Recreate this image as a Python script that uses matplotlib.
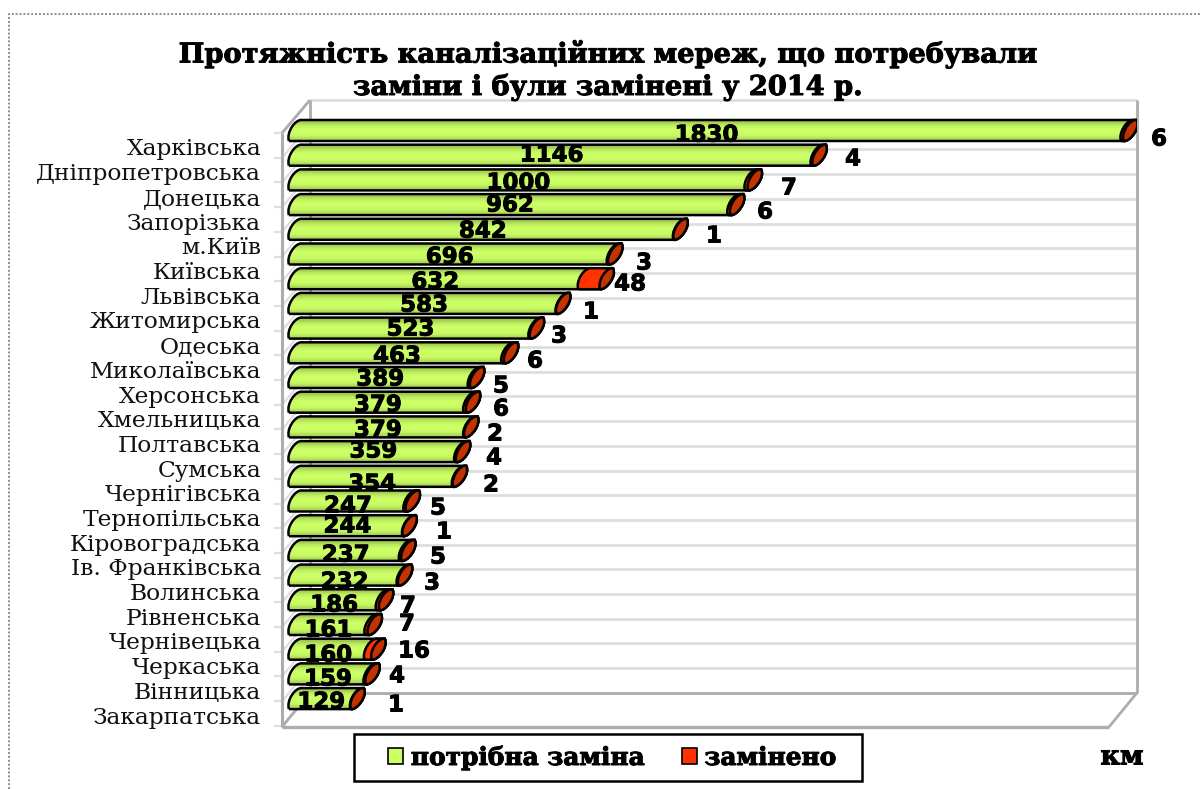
import numpy as np
import matplotlib
matplotlib.use("Agg")
import matplotlib.pyplot as plt
import matplotlib.patheffects as pe
from matplotlib.patches import PathPatch, Patch, Rectangle
from matplotlib.path import Path
from matplotlib.transforms import Affine2D, ScaledTranslation, blended_transform_factory

# ---------- data ----------
regions = ["Харківська", "Дніпропетровська", "Донецька", "Запорізька", "м.Київ", "Київська",
           "Львівська", "Житомирська", "Одеська", "Миколаївська", "Херсонська", "Хмельницька",
           "Полтавська", "Сумська", "Чернігівська", "Тернопільська", "Кіровоградська",
           "Ів. Франківська", "Волинська", "Рівненська", "Чернівецька", "Черкаська",
           "Вінницька", "Закарпатська"]
needed = [1830, 1146, 1000, 962, 842, 696, 632, 583, 523, 463, 389, 379, 379, 359, 354,
          247, 244, 237, 232, 186, 161, 160, 159, 129]
replaced = [6, 4, 7, 6, 1, 3, 48, 1, 3, 6, 5, 6, 2, 4, 2, 5, 1, 5, 3, 7, 7, 16, 4, 1]
title_lines = ["Протяжність каналізаційних мереж, що потребували",
               "заміни і були замінені у 2014 р."]
legend_labels = ["потрібна заміна", "замінено"]

# ---------- layout (pixels of the 1200x789 picture) ----------
W, H = 1200, 789
L, R, T, B = 282, 1137, 100, 727      # front-left wall x, back-right x, top, floor
DEPTH_X, DEPTH_Y = 28, 33
ZERO_PX, PX_PER_KM = 292, 0.453
FIRST_BAR_PX, STEP = 130.5, 24.7
BAR_H, SLANT = 21, 13
inner_y = [135, 155, 183, 205, 231, 257, 282, 305, 329, 356, 379, 405, 430, 451, 484, 506,
           526, 555, 582, 605, 630, 655, 679, 702]
outer_x = [1159, 853, 789, 765, 714, 644, 630, 591, 559, 535, 501, 501, 495, 494, 491, 438,
           444, 438, 432, 408, 407, 414, 397, 396]
outer_y = [139, 159, 188, 212, 236, 263, 284, 312, 336, 361, 386, 409, 434, 458, 485, 508,
           532, 557, 583, 606, 624, 651, 676, 705]
SERIF = "DejaVu Serif"
GREEN, RED, CAP = "#CCFF66", "#FF3300", "#C43200"
WALL, GRID = "#ADADAD", "#DEDEDE"
HEAVY = [pe.withStroke(linewidth=0.7, foreground="black")]

fig = plt.figure(figsize=(W / 100, H / 100), dpi=100, facecolor="white")
ax = fig.add_axes([L / W, 1 - B / H, (R - L) / W, (B - T) / H])
ax.set_xlim((L - ZERO_PX) / PX_PER_KM, (R - ZERO_PX) / PX_PER_KM)
ax.set_ylim((B - FIRST_BAR_PX) / STEP, (T - FIRST_BAR_PX) / STEP)
ax.patch.set_visible(False)
for s in ax.spines.values():
    s.set_visible(False)
px = Affine2D().scale(1, -1).translate(0, H)   # picture pixels -> display
x_data_y_px = blended_transform_factory(ax.transData, px)


def deco(xs, ys, color, lw=1.6, **kw):
    ax.plot(xs, ys, color=color, lw=lw, transform=px, clip_on=False, solid_capstyle="butt", **kw)


# walls and gridlines
n = len(regions)
for i in range(n + 1):
    yb = T + i * STEP
    yf = yb + DEPTH_Y
    deco([L + DEPTH_X, R], [yb, yb], GRID, 2.0, zorder=1)
    deco([L, L + DEPTH_X], [yf, yb], GRID, 1.6, zorder=1)
    deco([L - 8, L], [yf, yf], GRID, 1.6, zorder=1)
deco([L + DEPTH_X, L + DEPTH_X], [T, T + n * STEP], WALL, 2.0, zorder=1.5)
deco([R, R], [T, T + n * STEP], WALL, 2.0, zorder=1.5)
deco([L, L], [T + DEPTH_Y, B], WALL, 2.2, zorder=1.5)
deco([L, L + DEPTH_X], [T + DEPTH_Y, T], WALL, 2.0, zorder=1.5)
deco([L, L + DEPTH_X], [B, T + n * STEP], WALL, 2.0, zorder=1.5)
deco([L, R - DEPTH_X], [B, B], WALL, 2.4, zorder=1.5)
deco([R - DEPTH_X, R], [B, T + n * STEP], WALL, 2.0, zorder=1.5)
deco([L + DEPTH_X, R], [T + n * STEP, T + n * STEP], WALL, 2.0, zorder=1.5)

# horizontal 3-D tube bars, built in data units
dxu, dyu = 1 / PX_PER_KM, 1 / STEP
SX, SY = SLANT * dxu, BAR_H * dyu
gradient = np.array([[0.78], [0.93], [1.0], [1.0], [0.97], [0.84]])
green_rgb = np.array(matplotlib.colors.to_rgb(GREEN))
grad_img = (gradient[..., None] * green_rgb[None, None, :])


def right_side(x, yb):
    """Control points of the far (right) half of the slanted ellipse, bottom to top."""
    return [(x + 6 * dxu, yb + 1 * dyu), (x + 17 * dxu, yb - 13 * dyu), (x + SX, yb - SY)]


def left_side(x, yb):
    """Control points of the near (left) half of the slanted ellipse, top to bottom."""
    return [(x + 6 * dxu, yb - 22 * dyu), (x - 3 * dxu, yb - 8 * dyu), (x, yb)]


def segment(xa, xb, yb):
    """Tube body from xa to xb whose bottom edge lies at yb; both ends bulge the same way."""
    verts = [(xa, yb), (xb, yb)] + right_side(xb, yb) + [(xa + SX, yb - SY)] + left_side(xa, yb)
    codes = [Path.MOVETO, Path.LINETO] + [Path.CURVE4] * 3 + [Path.LINETO] + [Path.CURVE4] * 3
    return Path(verts, codes)


def end_cap(x, yb):
    verts = [(x, yb)] + right_side(x, yb) + left_side(x, yb)
    return Path(verts, [Path.MOVETO] + [Path.CURVE4] * 6)


xlim, ylim = ax.get_xlim(), ax.get_ylim()
for i, (g, r) in enumerate(zip(needed, replaced)):
    yb = i + (BAR_H / 2) * dyu
    x0 = -3 * dxu
    z = 3 + i * 0.01
    body = segment(x0, g + r, yb)
    im = ax.imshow(grad_img, extent=(x0 - 5 * dxu, g + r + SX + 8 * dxu, yb, yb - SY),
                   aspect="auto", interpolation="bilinear", zorder=z)
    im.set_clip_path(PathPatch(body, transform=ax.transData))
    ax.add_patch(PathPatch(body, fc="none", ec="black", lw=1.8, zorder=z + 0.001))
    ax.add_patch(PathPatch(segment(g, g + r, yb), fc=RED, ec="black", lw=1.8, zorder=z + 0.002))
    ax.add_patch(PathPatch(end_cap(g + r, yb), fc=CAP, ec="black", lw=1.8, zorder=z + 0.003))
    ax.text(g / 2, inner_y[i], str(g), transform=x_data_y_px, ha="center", va="center",
            fontsize=16.5, fontweight="bold", family="DejaVu Sans", color="black", zorder=6,
            path_effects=HEAVY)
    ax.text(outer_x[i], outer_y[i], str(r), transform=px, ha="center", va="center", fontsize=16.5,
            fontweight="bold", family="DejaVu Sans", color="black", zorder=6, clip_on=False,
            path_effects=HEAVY)
ax.set_xlim(xlim)
ax.set_ylim(ylim)
ax.set_xticks([])

# category labels sit below the bar level, as on the front of the floor grid
ax.set_yticks(range(n))
ax.set_yticklabels(regions, family=SERIF, fontsize=16.8, color="#111111")
ax.tick_params(axis="y", length=0, pad=15)
shift = ScaledTranslation(0, -0.165, fig.dpi_scale_trans)
for lab in ax.get_yticklabels():
    lab.set_transform(lab.get_transform() + shift)

# title
for line, y in zip(title_lines, [54, 87]):
    fig.text(608, y, line, transform=px, ha="center", va="center", family=SERIF,
             fontweight="bold", fontsize=19.6, color="black", path_effects=HEAVY)

# legend
fig.add_artist(Rectangle((354, 734), 508, 47, transform=px, fc="white", ec="black", lw=1.8))
handles = [Patch(fc=GREEN, ec="black", lw=1.2), Patch(fc=RED, ec="black", lw=1.2)]
leg = fig.legend(handles, legend_labels, ncols=2, loc="center",
                 bbox_to_anchor=(612.5 / W, 1 - 758 / H), frameon=False,
                 borderpad=0, handlelength=0.6, handleheight=0.6, handletextpad=0.3,
                 columnspacing=1.5, prop={"family": SERIF, "weight": "bold", "size": 17.9})
for t in leg.get_texts():
    t.set_path_effects(HEAVY)

fig.text(1122, 757, "км", transform=px, ha="center", va="center", family=SERIF,
         fontweight="bold", fontsize=19.5, color="black", path_effects=HEAVY)

# dotted outer frame
fig.add_artist(plt.Line2D([9, 9, W], [H, 14, 14], transform=px, color="#8C8C8C", lw=1.4,
                          linestyle=(0, (1, 1))))

fig.savefig("out.png", dpi=100, facecolor="white")
